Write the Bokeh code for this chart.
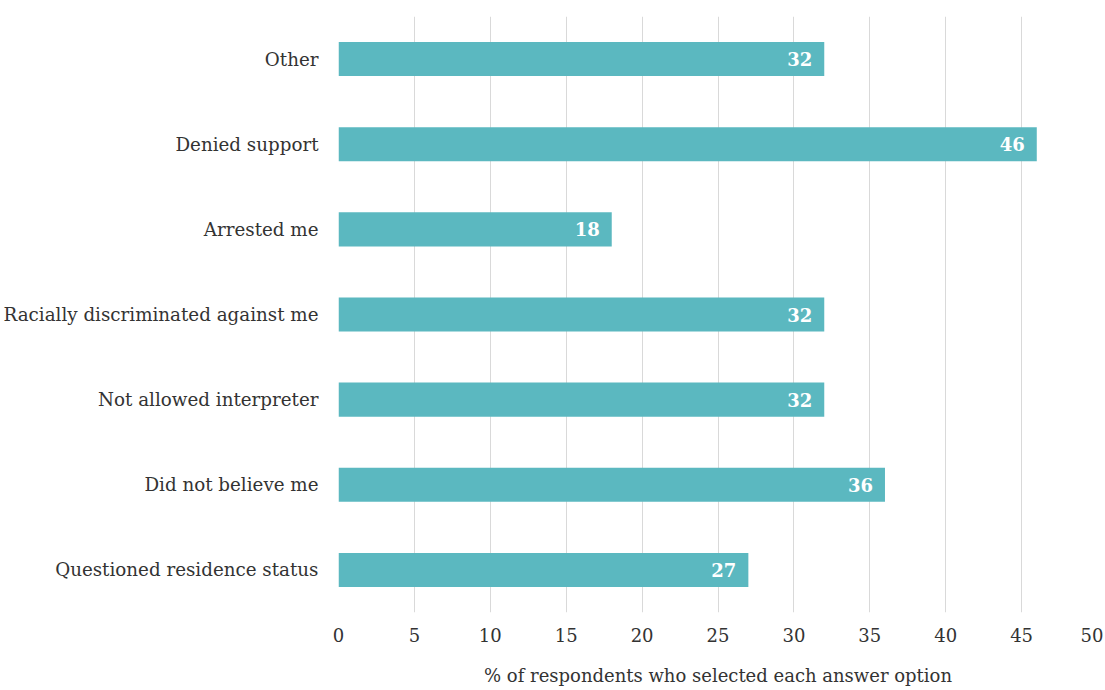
from bokeh.plotting import figure
from bokeh.models import ColumnDataSource, FactorRange, SingleIntervalTicker, Range1d
from bokeh.embed import file_html
from bokeh.resources import INLINE
from bokeh.core.properties import value

categories = ["Other", "Denied support", "Arrested me", "Racially discriminated against me",
              "Not allowed interpreter", "Did not believe me", "Questioned residence status"]
values = [32, 46, 18, 32, 32, 36, 27]
labels = [str(v) for v in values]

FONT = "DejaVu Serif"

src = ColumnDataSource(dict(cat=categories, val=values, lab=labels))

p = figure(width=1103, height=688, output_backend="svg", toolbar_location=None,
           y_range=FactorRange(*reversed(categories)), x_range=Range1d(0, 50),
           min_border_left=15, min_border_right=6, min_border_top=16, min_border_bottom=0)
p.outline_line_color = None

p.hbar(y="cat", right="val", left=0, height=0.4, source=src,
       fill_color="#5bb8c0", line_color=None)
p.text(x="val", y="cat", text="lab", source=src, text_align="right", text_baseline="middle",
       x_offset=-12, text_color="white", text_font=value(FONT), text_font_style="bold",
       text_font_size="18px")

p.xaxis.ticker = SingleIntervalTicker(interval=5)
p.xaxis.axis_line_color = None
p.xaxis.major_tick_line_color = None
p.xaxis.minor_tick_line_color = None
p.xaxis.major_label_text_font = FONT
p.xaxis.major_label_text_font_size = "18px"
p.xaxis.major_label_text_color = "#333333"
p.xaxis.major_label_standoff = 9
p.xaxis.axis_label = "% of respondents who selected each answer option"
p.xaxis.axis_label_text_font = FONT
p.xaxis.axis_label_text_font_size = "18px"
p.xaxis.axis_label_text_font_style = "normal"
p.xaxis.axis_label_text_color = "#333333"
p.xaxis.axis_label_standoff = 20

p.yaxis.axis_line_color = None
p.yaxis.major_tick_line_color = None
p.yaxis.minor_tick_line_color = None
p.yaxis.major_label_text_font = FONT
p.yaxis.major_label_text_font_size = "18.3px"
p.yaxis.major_label_text_color = "#333333"
p.yaxis.major_label_standoff = 14

p.xgrid.grid_line_color = "#d9d9d9"
p.ygrid.grid_line_color = None

open("out.html", "w").write(file_html(p, INLINE))
